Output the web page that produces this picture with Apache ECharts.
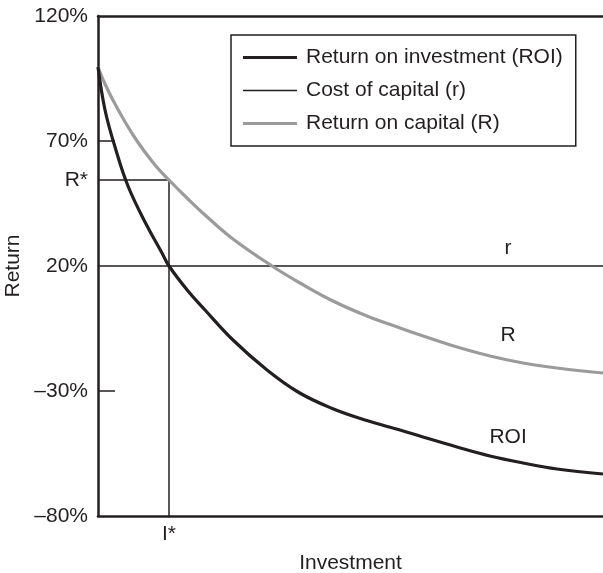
<!DOCTYPE html>
<html>
<head>
<meta charset="utf-8">
<script src="https://cdn.jsdelivr.net/npm/echarts@6/dist/echarts.min.js"></script>
<style>html,body{margin:0;padding:0;background:#fff}#c{width:603px;height:573px}</style>
</head>
<body>
<div id="c"></div>
<script>
// Data (x: investment on a 0-100 scale, y: return in %)
const roiX = [0, 1.39, 3.37, 5.94, 9.31, 12.67, 14.06, 17.82, 21.19, 26.73, 33.47, 39.6, 46.14, 52.87, 59.8, 64.36, 71.09, 77.62, 84.16, 90.89, 100];
const roiY = [99.6, 82.4, 67.6, 52, 37.6, 25.2, 20, 10, 2.4, -9.6, -21.6, -30.4, -36.8, -41.6, -45.6, -48.4, -52.4, -56, -58.8, -61.2, -63.2];
const capX = [0, 1.39, 3.37, 7.33, 11.29, 14.06, 17.82, 21.19, 26.73, 34.46, 40, 46.53, 53.27, 59.8, 64.36, 71.09, 77.62, 84.16, 90.89, 100];
const capY = [99.6, 92.8, 84.8, 71.2, 60.4, 54.4, 46.8, 40.4, 30.8, 20, 13.2, 6, 0, -4.8, -8, -12.4, -16, -18.8, -20.8, -22.8];
const costX = [0, 100];
const costY = [20, 20];
const RSTAR = 54.4;
const ISTAR = 14.06;
const yTicks = [-80, -30, 20, 70, 120];
const curveLabels = ['r', 'R', 'ROI'];
const curveLabelX = [81.2, 81.2, 81.2];
const curveLabelY = [27.2, -7.6, -48.4];

const INK = '#231f20';
const GRAY = '#9b9b9b';
const FONT = 'Liberation Sans, Arial, Helvetica, sans-serif';
const zip = (xs, ys) => xs.map((x, i) => [x, ys[i]]);
const fmtPct = v => (v < 0 ? '\u2013' + Math.abs(v) : String(v)) + '%';
const lineIcon = 'path://M0,0L54,0L54,3L0,3Z';
const thinIcon = 'path://M0,0L54,0L54,1.5L0,1.5Z';

const chart = echarts.init(document.getElementById('c'), null, {renderer: 'canvas'});
chart.setOption({
  animation: false,
  backgroundColor: '#fff',
  textStyle: {fontFamily: FONT, color: INK},
  grid: {left: 98, right: 0, top: 16, bottom: 57, containLabel: false, outerBoundsMode: 'none'},
  legend: {
    orient: 'vertical', left: 231, top: 35,
    data: [
      {name: 'Return on investment (ROI)', icon: lineIcon, itemStyle: {color: INK}},
      {name: 'Cost of capital (r)', icon: thinIcon, itemStyle: {color: INK}},
      {name: 'Return on capital (R)', icon: lineIcon, itemStyle: {color: GRAY}}
    ],
    itemWidth: 54, itemHeight: 21, itemGap: 12,
    padding: [12, 13, 12, 12],
    borderColor: INK, borderWidth: 1.5, borderRadius: 0,
    selectedMode: false,
    textStyle: {fontSize: 21, color: INK, fontFamily: FONT, padding: [0, 0, 0, 4], lineHeight: 21}
  },
  xAxis: [{
    type: 'value', min: 0, max: 100, position: 'bottom',
    name: 'Investment', nameLocation: 'middle', nameGap: 37,
    nameTextStyle: {fontSize: 21, color: INK, fontFamily: FONT},
    axisLine: {show: true, onZero: false, lineStyle: {color: INK, width: 2.5}},
    axisTick: {show: false},
    splitLine: {show: false},
    axisLabel: {show: true, customValues: [ISTAR], formatter: () => 'I*', fontSize: 21, color: INK, margin: 8, fontFamily: FONT}
  }, {
    type: 'value', min: 0, max: 100, position: 'top',
    axisLine: {show: true, onZero: false, lineStyle: {color: INK, width: 2.5}},
    axisTick: {show: false}, axisLabel: {show: false}, splitLine: {show: false}
  }],
  yAxis: {
    type: 'value', min: -80, max: 120,
    name: 'Return', nameLocation: 'middle', nameGap: 61, nameRotate: 90,
    nameTextStyle: {fontSize: 21, color: INK, fontFamily: FONT},
    axisLine: {show: true, onZero: false, lineStyle: {color: INK, width: 2.5}},
    axisTick: {show: true, inside: true, length: 17, customValues: [-30, 70], lineStyle: {color: INK, width: 1.5}},
    splitLine: {show: false},
    axisLabel: {
      customValues: yTicks.concat([RSTAR]),
      formatter: v => (Math.abs(v - RSTAR) < 1e-6 ? 'R*' : fmtPct(v)),
      fontSize: 21, color: INK, margin: 10, fontFamily: FONT
    }
  },
  series: [{
    name: 'Return on investment (ROI)', type: 'line', xAxisIndex: 0,
    data: zip(roiX, roiY), smooth: 0.4, showSymbol: false, symbol: 'none',
    lineStyle: {color: INK, width: 3.2}, itemStyle: {color: INK}, z: 5
  }, {
    name: 'Cost of capital (r)', type: 'line', xAxisIndex: 0,
    data: zip(costX, costY), showSymbol: false, symbol: 'none',
    lineStyle: {color: INK, width: 1.5}, itemStyle: {color: INK}, z: 3
  }, {
    name: 'Return on capital (R)', type: 'line', xAxisIndex: 0,
    data: zip(capX, capY), smooth: 0.4, showSymbol: false, symbol: 'none',
    lineStyle: {color: GRAY, width: 3.2}, itemStyle: {color: GRAY}, z: 4
  }, {
    name: 'guide', type: 'line', xAxisIndex: 0,
    data: [[0, RSTAR], [ISTAR, RSTAR], [ISTAR, -80]], showSymbol: false, symbol: 'none',
    lineStyle: {color: INK, width: 1.5}, z: 2
  }, {
    name: 'curve labels', type: 'scatter', xAxisIndex: 0,
    data: curveLabels.map((n, i) => ({name: n, value: [curveLabelX[i], curveLabelY[i]]})),
    symbol: 'circle', symbolSize: 1, itemStyle: {color: '#fff', opacity: 1}, silent: true,
    label: {show: true, position: 'inside', align: 'center', verticalAlign: 'middle', opacity: 1,
      fontSize: 21, color: INK, fontFamily: FONT, formatter: p => p.name}, z: 6
  }]
});
</script>
</body>
</html>
